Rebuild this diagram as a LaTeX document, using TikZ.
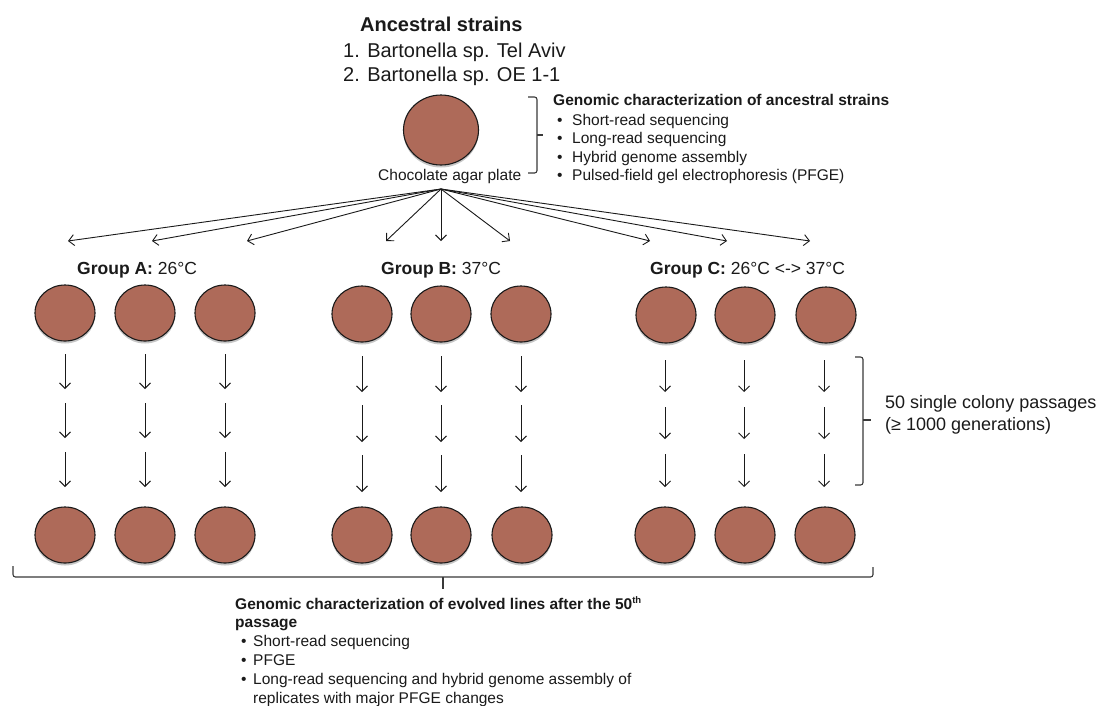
\documentclass[tikz,border=0pt]{standalone}
\usepackage{fontspec}
\setmainfont{Liberation Sans}
\usetikzlibrary{arrows.meta,shapes.geometric,shadows}
\definecolor{platecol}{HTML}{AE6A59}
\definecolor{ink}{HTML}{1A1A1A}
\definecolor{braceink}{HTML}{3A3A3A}
\newcommand\sztitle{\fontsize{20pt}{24pt}\selectfont}
\newcommand\szgroup{\fontsize{17.5pt}{21pt}\selectfont}
\newcommand\szpass{\fontsize{18pt}{22pt}\selectfont}
\newcommand\szlist{\fontsize{15.5pt}{18.5pt}\selectfont}
\begin{document}
\begin{tikzpicture}[x=1pt,y=-1pt,
  platenode/.style={ellipse, draw=ink, line width=1.1pt, fill=platecol,
    minimum width=60pt, minimum height=56pt, inner sep=0pt,
    drop shadow={opacity=0.22, shadow xshift=0pt, shadow yshift=-2.5pt, fill=black}},
  arr/.style={draw=ink, line width=0.9pt, -{Straight Barb[length=5.5pt,width=11pt]}},
  brc/.style={draw=braceink, line width=1.1pt, rounded corners=2.5pt},
  txt/.style={inner sep=0pt, anchor=base west, text=ink}]
\useasboundingbox (0,0) rectangle (1099,705);
\fill[white] (0,0) rectangle (1099,705);

% title
\node[txt] (title) at (360,31) {\sztitle\bfseries Ancestral strains};
\node[txt] (str1) at (343,57) {\sztitle 1. Bartonella sp. Tel Aviv};
\node[txt] (str2) at (343,81) {\sztitle 2. Bartonella sp. OE 1-1};

% ancestral plate
\node[platenode, minimum width=75pt, minimum height=70pt] (anc) at (441,130) {};
\node[txt] (agar) at (378,180) {\szlist Chocolate agar plate};

% brace right of plate and list
\draw[brc] (528,97) -- (537,97) -- (537,173) -- (528,173);
\draw[brc] (537,135) -- (543,135);
\node[txt] (ghead) at (553,105.5) {\szlist\bfseries Genomic characterization of ancestral strains};
\node[txt] (g1) at (557,125) {\szlist\makebox[15pt][l]{•}Short-read sequencing};
\node[txt] (g2) at (557,143.5) {\szlist\makebox[15pt][l]{•}Long-read sequencing};
\node[txt] (g3) at (557,162) {\szlist\makebox[15pt][l]{•}Hybrid genome assembly};
\node[txt] (g4) at (557,180.5) {\szlist\makebox[15pt][l]{•}Pulsed-field gel electrophoresis (PFGE)};

% fan of arrows
\coordinate (fan) at (441,189);
\foreach \n/\x in {A1/68,A2/152,A3/247,B1/386,B2/441,B3/510,C1/650,C2/727,C3/810}{
  \coordinate (t\n) at (\x,241);
  \draw[arr] (fan) -- (t\n);
}

% group labels
\node[txt] (labA) at (77,274) {\szgroup\textbf{Group A:} 26°C};
\node[txt] (labB) at (381,274) {\szgroup\textbf{Group B:} 37°C};
\node[txt] (labC) at (650,274) {\szgroup\textbf{Group C:} 26°C <-> 37°C};

% plates: top and bottom rows
\foreach \n/\x/\y in {A1/65/313,A2/145/313,A3/225/313,B1/362/314,B2/441/314,B3/521/314,C1/666/315,C2/745/315,C3/826/315}{
  \node[platenode] (top\n) at (\x,\y) {};
}
\foreach \n/\x in {A1/65,A2/145,A3/225,B1/362,B2/441,B3/522,C1/665,C2/745,C3/825}{
  \node[platenode] (bot\n) at (\x,535) {};
}

% passage arrows
\foreach \g/\xa/\xb/\xc/\sa/\ea/\sb/\eb/\sc/\ec in {
  A/65/145/225/354/389/403/438/452/487,
  B/362/441/521/356/392/405/442/455/492,
  C/665/744/824/360/392/407/439/454/487}{
  \foreach \c/\x in {1/\xa,2/\xb,3/\xc}{
    \coordinate (p\g\c s1) at (\x,\sa); \coordinate (p\g\c e1) at (\x,\ea);
    \coordinate (p\g\c s2) at (\x,\sb); \coordinate (p\g\c e2) at (\x,\eb);
    \coordinate (p\g\c s3) at (\x,\sc); \coordinate (p\g\c e3) at (\x,\ec);
    \draw[arr] (p\g\c s1) -- (p\g\c e1);
    \draw[arr] (p\g\c s2) -- (p\g\c e2);
    \draw[arr] (p\g\c s3) -- (p\g\c e3);
  }
}

% passages brace and label
\draw[brc] (855,357) -- (863,357) -- (863,485) -- (855,485);
\draw[brc] (863,420) -- (871,420);
\node[txt] (pass1) at (885,408) {\szpass 50 single colony passages};
\node[txt] (pass2) at (885,430) {\szpass (≥ 1000 generations)};

% bottom brace
\draw[brc] (13,566) -- (13,577) -- (873,577) -- (873,567);
\draw[brc] (443,577) -- (443,589);

% bottom text
\node[txt] (ehead) at (235,609) {\szlist\bfseries Genomic characterization of evolved lines after the 50\raisebox{5.5pt}{\fontsize{9.5pt}{10pt}\selectfont th}};
\node[txt] (ehead2) at (235,627.5) {\szlist\bfseries passage};
\node[txt] (e1) at (241,646.5) {\szlist\makebox[12pt][l]{•}Short-read sequencing};
\node[txt] (e2) at (241,665.5) {\szlist\makebox[12pt][l]{•}PFGE};
\node[txt] (e3) at (241,684.5) {\szlist\makebox[12pt][l]{•}Long-read sequencing and hybrid genome assembly of};
\node[txt] (e4) at (253,703) {\szlist replicates with major PFGE changes};
\end{tikzpicture}
\end{document}
